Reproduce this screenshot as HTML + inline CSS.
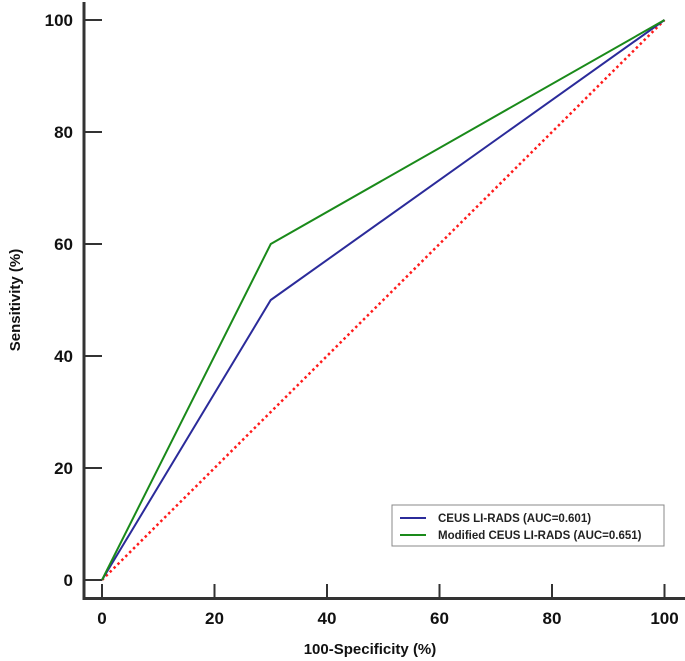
<!DOCTYPE html>
<html><head><meta charset="utf-8"><style>
html,body{margin:0;padding:0;background:#fff;}
svg{display:block;font-family:"Liberation Sans",sans-serif;}
</style></head><body>
<svg id="chart" width="685" height="661" viewBox="0 0 685 661">
<g id="axes"></g><g id="series"></g>
<g>
<rect x="392" y="505" width="272" height="41" fill="#fff" stroke="#888" stroke-width="1"/>
<line x1="400" y1="518" x2="426" y2="518" stroke="#2b2b9a" stroke-width="2"/>
<text x="438" y="522" font-size="11.5" font-weight="bold" fill="#222">CEUS LI-RADS (AUC=0.601)</text>
<line x1="400" y1="535" x2="426" y2="535" stroke="#1a8a1a" stroke-width="2"/>
<text x="438" y="539" font-size="11.5" font-weight="bold" fill="#222">Modified CEUS LI-RADS (AUC=0.651)</text>
</g>
<text x="370" y="654" text-anchor="middle" font-size="15" font-weight="bold" fill="#111">100-Specificity (%)</text>
<text transform="translate(20,300) rotate(-90)" text-anchor="middle" font-size="15" font-weight="bold" fill="#111">Sensitivity (%)</text>
</svg>
<script>
const xTicks=[0,20,40,60,80,100];
const yTicks=[0,20,40,60,80,100];
const ceusX=[0,30,100];
const ceusY=[0,50,100];
const modX=[0,30,100];
const modY=[0,60,100];
const refX=[0,100];
const refY=[0,100];
const NS="http://www.w3.org/2000/svg";
const sx=v=>102+v*5.625;
const sy=v=>580-v*5.6;
function mk(t,a,p){const e=document.createElementNS(NS,t);for(const k in a)e.setAttribute(k,a[k]);p.appendChild(e);return e;}
const ax=document.getElementById('axes');
let l=mk('line',{x1:84,y1:2,x2:84,y2:600,stroke:'#333','stroke-width':3},ax);


l=mk('line',{x1:83,y1:598.5,x2:685,y2:598.5,stroke:'#333','stroke-width':3},ax);


yTicks.forEach(v=>{
 const t=mk('line',{x1:84,y1:sy(v),x2:102,y2:sy(v),stroke:'#333','stroke-width':2},ax);
 
 
 const tx=mk('text',{x:73,y:sy(v)+6,'text-anchor':'end','font-size':17,'font-weight':'bold',fill:'#111'},ax);
 tx.textContent=v;
 
 
});
xTicks.forEach(v=>{
 const t=mk('line',{x1:sx(v),y1:598,x2:sx(v),y2:584,stroke:'#333','stroke-width':2},ax);
 
 
 const tx=mk('text',{x:sx(v),y:624,'text-anchor':'middle','font-size':17,'font-weight':'bold',fill:'#111'},ax);
 tx.textContent=v;
 
 
});
const se=document.getElementById('series');
function line(xs,ys,col,dash,w,name){
 const p=mk('polyline',{points:xs.map((x,i)=>sx(x)+','+sy(ys[i])).join(' '),fill:'none',stroke:col,'stroke-width':w},se);
 if(dash)p.setAttribute('stroke-dasharray',dash);
 
 
}
line(refX,refY,'#ff1a1a','2.5 3',2.5,'reference-diagonal');
line(ceusX,ceusY,'#2b2b9a',null,2,'ceus-li-rads-curve');
line(modX,modY,'#1a8a1a',null,2,'modified-ceus-li-rads-curve');
</script>
</body></html>
